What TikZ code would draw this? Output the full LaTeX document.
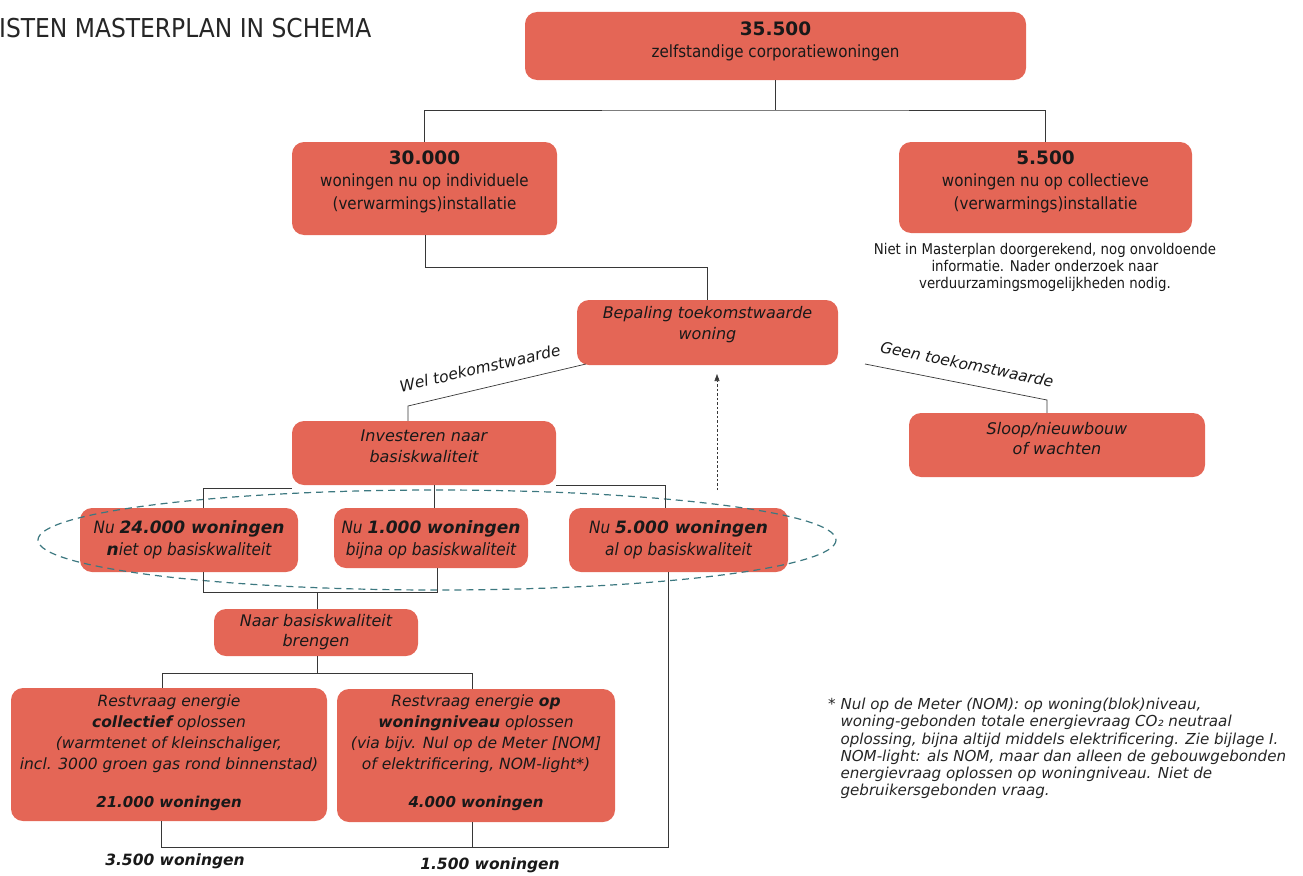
\documentclass[tikz,border=0pt]{standalone}
\usepackage{fontspec}
\setmainfont{DejaVu Sans Condensed}
\newfontfamily\widefont{DejaVu Sans}
\usetikzlibrary{arrows.meta}
\definecolor{boxred}{RGB}{228,102,86}
\definecolor{ellcol}{RGB}{60,120,128}
\definecolor{lncol}{RGB}{55,55,55}
\begin{document}
\begin{tikzpicture}[x=1pt,y=-1pt,
  box/.style={fill=boxred, rounded corners=12pt, inner sep=0pt},
  txt/.style={align=center, inner sep=0pt, text=black!90},
  tA/.style={txt, font=\fontsize{16.8}{22.5}\selectfont},
  tI/.style={txt, font=\widefont\fontsize{16}{20.5}\selectfont\itshape},
  tR/.style={txt, font=\widefont\fontsize{15.5}{21}\selectfont\itshape},
  tN/.style={txt, font=\fontsize{17}{22}\selectfont\itshape},
  lbl/.style={txt, font=\widefont\fontsize{15.5}{20}\selectfont\itshape},
  conn/.style={draw=lncol, line width=0.7pt},
]
\useasboundingbox (0,0) rectangle (1303,875);

% title
\node[anchor=west, inner sep=0pt, font=\fontsize{26}{28}\selectfont, text=black!85] (title) at (-1,28) {ISTEN MASTERPLAN IN SCHEMA};

% boxes
\node[box, minimum width=501pt, minimum height=68pt] (top) at (775.5,46) {};
\node[tA] (topt) at (775.5,41.5) {{\widefont\fontsize{18.5}{22.5}\selectfont\bfseries 35.500}\\zelfstandige corporatiewoningen};

\node[box, minimum width=265pt, minimum height=93pt] (n30) at (424.5,188.5) {};
\node[tA] (n30t) at (424.5,181.5) {{\widefont\fontsize{18.5}{22.5}\selectfont\bfseries 30.000}\\woningen nu op individuele\\(verwarmings)installatie};

\node[box, minimum width=293pt, minimum height=91pt] (n55) at (1045.5,187.5) {};
\node[tA] (n55t) at (1045.5,181.5) {{\widefont\fontsize{18.5}{22.5}\selectfont\bfseries 5.500}\\woningen nu op collectieve\\(verwarmings)installatie};

\node[txt, font=\fontsize{14.8}{17}\selectfont] (note) at (1045,267.5) {Niet in Masterplan doorgerekend, nog onvoldoende\\informatie. Nader onderzoek naar\\verduurzamingsmogelijkheden nodig.};

\node[box, minimum width=261pt, minimum height=65pt] (bep) at (707.5,332.5) {};
\node[tI] (bept) at (707.5,324.5) {Bepaling toekomstwaarde\\woning};

\node[box, minimum width=264pt, minimum height=64pt] (inv) at (424,453) {};
\node[tI] (invt) at (424,446.5) {Investeren naar\\basiskwaliteit};

\node[box, minimum width=296pt, minimum height=64pt] (sloop) at (1057,445) {};
\node[tI] (sloopt) at (1057,438.5) {Sloop/nieuwbouw\\of wachten};

\node[box, minimum width=218pt, minimum height=64pt] (a24) at (189,540) {};
\node[tN] (a24t) at (189,539.5) {Nu {\widefont\bfseries 24.000 woningen}\\{\widefont\bfseries n}iet op basiskwaliteit};

\node[box, minimum width=194pt, minimum height=60pt] (a1) at (431,538) {};
\node[tN] (a1t) at (431,539.5) {Nu {\widefont\bfseries 1.000 woningen}\\bijna op basiskwaliteit};

\node[box, minimum width=219pt, minimum height=64pt] (a5) at (678.5,540) {};
\node[tN] (a5t) at (678.5,539.5) {Nu {\widefont\bfseries 5.000 woningen}\\al op basiskwaliteit};

\node[box, minimum width=204pt, minimum height=47pt] (naar) at (316,632.5) {};
\node[tI] (naart) at (316,632) {Naar basiskwaliteit\\brengen};

\node[box, minimum width=316pt, minimum height=133pt] (rc) at (169,754.5) {};
\node[tR, anchor=north] (rct) at (169,695) {Restvraag energie\\\textbf{collectief} oplossen\\(warmtenet of kleinschaliger,\\incl. 3000 groen gas rond binnenstad)\\[17pt]{\fontsize{15}{21}\selectfont\bfseries 21.000 woningen}};

\node[box, minimum width=278pt, minimum height=133pt] (rw) at (476,755.5) {};
\node[tR, anchor=north] (rwt) at (476,695) {Restvraag energie \textbf{op}\\\textbf{woningniveau} oplossen\\(via bijv. Nul op de Meter [NOM]\\of elektrificering, NOM-light*)\\[17pt]{\fontsize{15}{21}\selectfont\bfseries 4.000 woningen}};

% ellipse
\draw[ellcol, dash pattern=on 7pt off 5pt, line width=1.2pt] (437,540) ellipse [x radius=399, y radius=50];

% connectors
\coordinate (c1) at (775.5,110);
\draw[conn] (top.south) -- (c1);
\draw[conn] (n30.north) |- (c1) -| (n55.north);

\coordinate (c2) at (425,267);
\draw[conn] (c2 |- n30.south) -- (c2) -| (bep.north);

\coordinate (w1) at (586,364);
\coordinate (w2) at (408,406);
\draw[conn] (w1) -- (w2) -- (w2 |- inv.north);
\node[lbl, rotate=13] (wel) at (480,368) {Wel toekomstwaarde};

\coordinate (g1) at (865,364);
\coordinate (g2) at (1047,400);
\draw[conn] (g1) -- (g2) -- (g2 |- sloop.north);
\node[lbl, rotate=-11.5] (geen) at (967,364) {Geen toekomstwaarde};

\coordinate (d1) at (717,490);
\coordinate (d2) at (717,374);
\draw[lncol, line width=0.6pt, dash pattern=on 2.5pt off 2pt, -{Triangle[length=7pt,width=5pt]}] (d1) -- (d2);

\coordinate (i1) at (203,482);
\coordinate (i2) at (665,487);
\coordinate (i3) at (434,487);
\draw[conn] ([yshift=-3pt]inv.south west) -- ([yshift=-3pt]inv.south west -| i1) -- (i1 |- a24.north);
\draw[conn] ([yshift=-0.5pt]inv.south east) -- ([yshift=-0.5pt]inv.south east -| i2) -- (i2 |- a5.north);
\draw[conn] (i3 |- inv.south) -- (i3 |- a1.north);

\coordinate (j1) at (203,592);
\coordinate (j2) at (437.5,592);
\draw[conn] (j1 |- a24.south) -- (j1) -- (j2) -- (j2 |- a1.south);
\coordinate (j3) at (317,592);
\draw[conn] (j3) -- (j3 |- naar.north);

\coordinate (k0) at (317,673);
\coordinate (k1) at (162,673);
\coordinate (k2) at (472,673);
\draw[conn] (naar.south -| k0) -- (k0);
\draw[conn] (k1 |- rc.north) -- (k1) -- (k2) -- (k2 |- rw.north);

\coordinate (m1) at (161,847);
\coordinate (m2) at (472,847);
\coordinate (m3) at (668,847);
\draw[conn] (m1 |- rc.south) -- (m1) -- (m3) -- (m3 |- a5.south);
\draw[conn] (m2 |- rw.south) -- (m2);

\node[txt, font=\widefont\fontsize{15.5}{20}\selectfont\bfseries\itshape] (w35) at (175,861) {3.500 woningen};
\node[txt, font=\widefont\fontsize{15.5}{20}\selectfont\bfseries\itshape] (w15) at (490,865) {1.500 woningen};

% footnote
\node[anchor=north west, inner sep=0pt, align=left, text=black!85, font=\widefont\fontsize{15.1}{17.2}\selectfont\itshape] (foot) at (828,698)
{* Nul op de Meter (NOM): op woning(blok)niveau,\\
\phantom{*} woning-gebonden totale energievraag CO₂ neutraal\\
\phantom{*} oplossing, bijna altijd middels elektrificering. Zie bijlage I.\\
\phantom{*} NOM-light: als NOM, maar dan alleen de gebouwgebonden\\
\phantom{*} energievraag oplossen op woningniveau. Niet de\\
\phantom{*} gebruikersgebonden vraag.};
\end{tikzpicture}
\end{document}
